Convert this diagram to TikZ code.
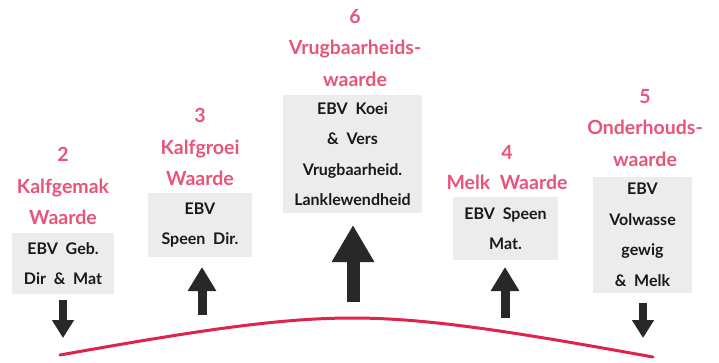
\documentclass[tikz,border=0pt]{standalone}
\usepackage{fontspec}
\setmainfont{Lato}
\usetikzlibrary{arrows.meta}
\definecolor{pinktxt}{RGB}{233,84,122}
\definecolor{curvered}{RGB}{222,35,80}
\definecolor{boxgray}{RGB}{236,236,236}
\definecolor{arrowdark}{RGB}{40,40,40}
\tikzset{
  ebvbox/.style={fill=boxgray, inner sep=0pt, align=center, text=black!90,
    font=\bfseries\fontsize{16}{30.5}\selectfont},
  pinklabel/.style={text=pinktxt, align=center, inner sep=0pt,
    font=\bfseries\fontsize{19.5}{31.5}\selectfont},
  smallarrow/.style={draw=arrowdark, line width=8pt,
    -{Triangle[width=21pt,length=18pt]}},
  midarrow/.style={draw=arrowdark, line width=9pt,
    -{Triangle[width=27pt,length=24pt]}},
  bigarrow/.style={draw=arrowdark, line width=13pt,
    -{Triangle[width=40pt,length=37pt]}},
}
\begin{document}
\begin{tikzpicture}[x=1pt,y=-1pt]
\useasboundingbox (0,0) rectangle (719,362);
\fill[white] (0,0) rectangle (719,362);

% boxes
\node[ebvbox, minimum width=102pt, minimum height=61pt] (b2) at (63,263.5)
  {EBV\ \ Geb.\\Dir\ \ \&\ \ Mat};
\node[ebvbox, minimum width=104pt, minimum height=64pt] (b3) at (200,225)
  {EBV\\Speen\ \ Dir.};
\node[ebvbox, minimum width=139pt, minimum height=118pt] (b6) at (352.5,154)
  {EBV\ \ Koei\\\&\ \ Vers\\Vrugbaarheid.\\Lanklewendheid};
\node[ebvbox, minimum width=105pt, minimum height=63pt] (b4) at (505.5,228.5)
  {EBV\ \ Speen\\Mat.};
\node[ebvbox, minimum width=99pt, minimum height=116pt] (b5) at (642.5,235)
  {EBV\\Volwasse\\gewig\\\&\ \ Melk};

% pink labels
\node[pinklabel] (l2) at (63,186) {2\\Kalfgemak\\Waarde};
\node[pinklabel] (l3) at (200,147) {3\\Kalfgroei\\Waarde};
\node[pinklabel] (l6) at (355,48) {6\\Vrugbaarheids-\\waarde};
\node[pinklabel, font=\bfseries\fontsize{19.5}{30}\selectfont] (l4) at (507,168) {4\\Melk\ \ Waarde};
\node[pinklabel] (l5) at (645,128) {5\\Onderhouds-\\waarde};

% curve
\coordinate (c0) at (60,355);
\coordinate (cp) at (353,318);
\coordinate (c1) at (653,357);
\draw[curvered, line width=3pt, line cap=round]
  (c0) .. controls (200,330) and (280,318) .. (cp)
       .. controls (430,318) and (520,333) .. (c1);

% arrow end points
\coordinate (a2s) at (63,300);  \coordinate (a2e) at (63,338);
\coordinate (a3s) at (202,315); \coordinate (a3e) at (202,267);
\coordinate (a6s) at (353,302); \coordinate (a6e) at (353,225);
\coordinate (a4s) at (505,318); \coordinate (a4e) at (505,267);
\coordinate (a5s) at (643,303); \coordinate (a5e) at (643,338);

\draw[smallarrow] (a2s) -- (a2e);
\draw[midarrow] (a3s) -- (a3e);
\draw[bigarrow] (a6s) -- (a6e);
\draw[midarrow] (a4s) -- (a4e);
\draw[smallarrow] (a5s) -- (a5e);
\end{tikzpicture}
\end{document}
